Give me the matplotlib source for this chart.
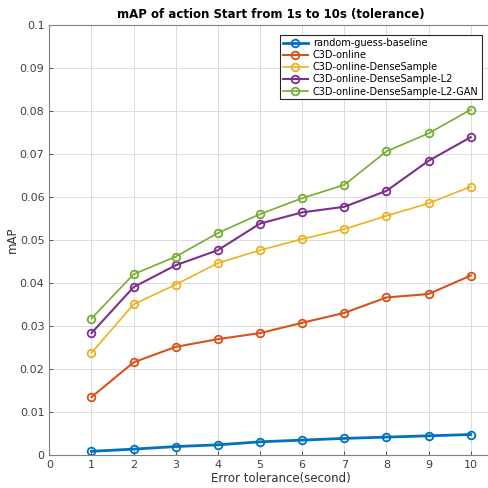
import numpy as np
import matplotlib
matplotlib.use("Agg")
import matplotlib.pyplot as plt

# tolerance in seconds
tol = [1, 2, 3, 4, 5, 6, 7, 8, 9, 10]

random_guess = [0.0008, 0.0013, 0.0019, 0.0023, 0.0030, 0.0034, 0.0038, 0.0041, 0.0044, 0.0047]
c3d_online = [0.0134, 0.0215, 0.0251, 0.0269, 0.0283, 0.0307, 0.0330, 0.0366, 0.0374, 0.0417]
c3d_dense = [0.0237, 0.0350, 0.0396, 0.0446, 0.0476, 0.0502, 0.0525, 0.0556, 0.0585, 0.0624]
c3d_dense_l2 = [0.0283, 0.0390, 0.0441, 0.0476, 0.0538, 0.0564, 0.0577, 0.0614, 0.0684, 0.0739]
c3d_dense_l2_gan = [0.0317, 0.0420, 0.0461, 0.0516, 0.0560, 0.0597, 0.0628, 0.0706, 0.0748, 0.0803]

labels = ["random-guess-baseline", "C3D-online", "C3D-online-DenseSample",
          "C3D-online-DenseSample-L2", "C3D-online-DenseSample-L2-GAN"]
series = [random_guess, c3d_online, c3d_dense, c3d_dense_l2, c3d_dense_l2_gan]
farger = ["#0072BD", "#D95319", "#EDB120", "#7E2F8E", "#77AC30"]
bredder = [2.0, 1.5, 1.2, 1.5, 1.2]

fig = plt.figure(figsize=(4.89, 4.88), dpi=100)
ax = fig.add_axes([0.1008, 0.0682, 0.948, 0.8805])

for y, lab, c, lw in zip(series, labels, farger, bredder):
    ax.plot(tol, y, color=c, lw=lw, marker="o", markersize=5.5,
            markerfacecolor="none", markeredgewidth=1.3, label=lab)

ax.set_xlim(0, 11)
ax.set_ylim(0, 0.1)
ax.set_xticks(range(0, 11))
ax.set_yticks(np.arange(0, 0.1001, 0.01))
ax.set_yticklabels(["0", "0.01", "0.02", "0.03", "0.04", "0.05", "0.06",
                    "0.07", "0.08", "0.09", "0.1"])
ax.grid(True, color="#dcdcdc", lw=0.7)
ax.set_axisbelow(True)
ax.tick_params(labelsize=8, colors="#404040", direction="in", length=3, width=0.6)
for s in ax.spines.values():
    s.set_color("#808080")
    s.set_linewidth(0.8)

ax.set_xlabel("Error tolerance(second)", fontsize=8.5, color="#303030", labelpad=2)
ax.set_ylabel("mAP", fontsize=8.5, color="#303030", labelpad=0.5)
ax.set_title("mAP of action Start from 1s to 10s (tolerance)", fontsize=8.5,
             fontweight="bold", pad=5, x=0.478)

leg = ax.legend(loc="upper right", bbox_to_anchor=(0.9325, 0.9767), fontsize=7,
                frameon=True, fancybox=False, framealpha=1, edgecolor="#262626",
                borderaxespad=0, handlelength=2.6, labelspacing=0.22,
                borderpad=0.3, handletextpad=0.5)
leg.get_frame().set_linewidth(0.8)

fig.savefig("out.png", dpi=100)
